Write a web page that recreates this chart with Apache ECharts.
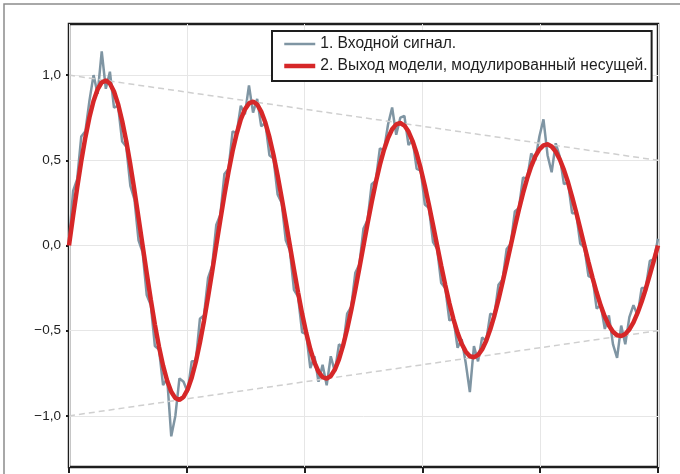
<!DOCTYPE html>
<html><head><meta charset="utf-8">
<script src="https://cdn.jsdelivr.net/npm/echarts@6/dist/echarts.min.js"></script>
<style>html,body{margin:0;padding:0;background:#fff}#c{width:680px;height:474px}</style>
</head><body><div id="c"></div>
<script>
const seriesNames = ['1. Входной сигнал.', '2. Выход модели, модулированный несущей.'];
const xMin = 0, xMax = 5;
const yTicks = [-1.0, -0.5, 0.0, 0.5, 1.0];

const inputSignal = [
  0.02, .32, .39, .64, .67, .85, 1.00, .89, 1.14, .92, 1.02, .81, .82, .61, .58, .35, .27, .03, -.04,
  -.29, -.35, -.59, -.61, -.82, -.78, -1.12, -1.00, -.78, -.80, -.86, -.68, -.68, -.43, -.41, -.19, -.12, .12,
  .18, .42, .45, .67, .66, .82, .77, .94, .78, .86, .70, .72, .53, .51, .30, .25, .03, -.03,
  -.26, -.30, -.51, -.52, -.72, -.65, -.80, -.70, -.82, -.65, -.74, -.58, -.60, -.40, -.36, -.16, -.11, .10,
  .15, .36, .38, .57, .56, .71, .81, .65, .75, .76, .59, .62, .45, .44, .24, .22, .02, -.02,
  -.22, -.25, -.44, -.43, -.60, -.55, -.69, -.86, -.59, -.68, -.54, -.56, -.40, -.41, -.23, -.20, -.02, .01,
  .20, .22, .40, .39, .54, .50, .64, .74, .53, .43, .60, .52, .36, .37, .19, .19, .01, -.01,
  -.18, -.19, -.37, -.35, -.49, -.41, -.58, -.66, -.47, -.58, -.42, -.35, -.41, -.25, -.25, -.09, -.08, .04
];

const modelOutput = [
  0, .173, .340, .495, .634, .753, .848, .917, .957, .969, .951, .904, .830, .731, .612, .474, .323, .163, 0,
  -.162, -.318, -.464, -.594, -.705, -.794, -.858, -.896, -.906, -.889, -.845, -.776, -.684, -.571, -.443, -.302, -.153, 0,
  .151, .297, .432, .554, .657, .740, .799, .834, .844, .828, .786, .722, .636, .531, .411, .280, .142, 0,
  -.140, -.275, -.401, -.513, -.609, -.686, -.741, -.773, -.781, -.766, -.728, -.668, -.588, -.491, -.380, -.259, -.131, 0,
  .130, .254, .370, .473, .561, .631, .682, .711, .719, .704, .669, .613, .540, .451, .349, .238, .120, 0,
  -.119, -.233, -.339, -.433, -.513, -.577, -.623, -.650, -.656, -.643, -.610, -.559, -.492, -.411, -.318, -.216, -.109, 0,
  .108, .211, .307, .393, .465, .523, .564, .588, .594, .581, .551, .505, .444, .371, .286, .195, .098, 0,
  -.097, -.190, -.276, -.353, -.418, -.469, -.506, -.527, -.531, -.520, -.493, -.451, -.396, -.330, -.255, -.173, -.087, 0
];

const envelopeX = [0, 5];
const envelopeUpper = [1.0, 0.5];
const envelopeLower = [-1.0, -0.5];

function toXY(arr) {
  const n = arr.length - 1;
  return arr.map((v, i) => [xMin + i * (xMax - xMin) / n, v]);
}
function pairXY(xs, ys) { return xs.map((x, i) => [x, ys[i]]); }
function fmt(v) { return v.toFixed(1).replace('.', ',').replace('-', '\u2212'); }

const chart = echarts.init(document.getElementById('c'), null, { renderer: 'canvas' });
chart.setOption({
  animation: false,
  backgroundColor: '#ffffff',
  graphic: [{
    type: 'rect', z: -10, silent: true,
    shape: { x: 4, y: 4, width: 720, height: 520 },
    style: { fill: 'none', stroke: '#8c8c8c', lineWidth: 1.5 }
  }],
  grid: {
    left: 69, top: 24, width: 589, height: 443,
    show: true, borderColor: '#1e1e1e', borderWidth: 2.5, backgroundColor: 'transparent'
  },
  legend: {
    data: seriesNames,
    orient: 'vertical',
    left: 272, top: 31,
    itemWidth: 31, itemHeight: 14, itemGap: 6,
    padding: [5, 4, 7, 10],
    borderColor: '#1e1e1e', borderWidth: 2, borderRadius: 0,
    backgroundColor: '#ffffff',
    itemStyle: { opacity: 0 },
    lineStyle: { width: 'inherit' },
    textStyle: { fontSize: 15.6, color: '#1e1e1e', fontFamily: 'Liberation Sans' }
  },
  xAxis: {
    type: 'value', min: xMin, max: xMax, interval: 1,
    axisLine: { show: false, onZero: false },
    axisTick: { show: true, length: 6, lineStyle: { color: '#1e1e1e', width: 2 } },
    axisLabel: { show: false },
    splitLine: { show: true, lineStyle: { color: '#e6e6e6', width: 1 } }
  },
  yAxis: {
    type: 'value', min: -1.3, max: 1.3, splitNumber: 5,
    axisLine: { show: false, onZero: false },
    axisTick: { show: true, length: 3, customValues: yTicks, lineStyle: { color: '#1e1e1e', width: 2 } },
    axisLabel: { customValues: yTicks, formatter: fmt, fontSize: 13.5, color: '#222', margin: 8, fontFamily: 'Liberation Sans' },
    splitLine: { show: true, lineStyle: { color: '#e6e6e6', width: 1 } }
  },
  series: [
    {
      name: seriesNames[0], type: 'line', data: toXY(inputSignal),
      symbol: 'none', z: 2,
      lineStyle: { color: '#7f95a3', width: 2.5 }, itemStyle: { color: '#7f95a3' }
    },
    {
      name: 'envUpper', type: 'line', data: pairXY(envelopeX, envelopeUpper),
      symbol: 'none', z: 3, silent: true,
      lineStyle: { color: '#cfcfcf', width: 1.5, type: [6, 4] }
    },
    {
      name: 'envLower', type: 'line', data: pairXY(envelopeX, envelopeLower),
      symbol: 'none', z: 3, silent: true,
      lineStyle: { color: '#cfcfcf', width: 1.5, type: [6, 4] }
    },
    {
      name: seriesNames[1], type: 'line', data: toXY(modelOutput),
      symbol: 'none', z: 4,
      lineStyle: { color: '#d62728', width: 4.5 }, itemStyle: { color: '#d62728' }
    }
  ]
});
</script>
</body></html>
